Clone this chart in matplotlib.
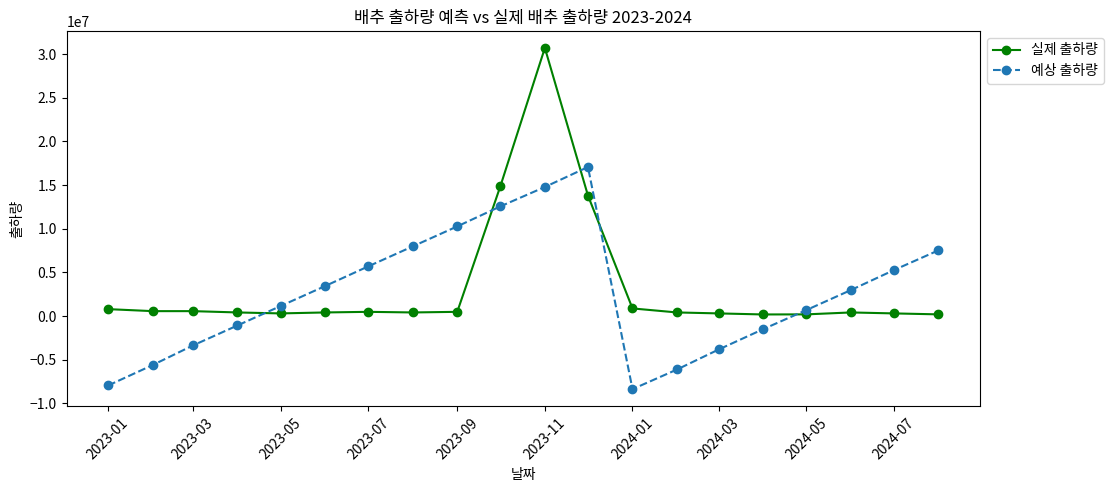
import matplotlib
matplotlib.use("Agg")
import matplotlib.pyplot as plt
import matplotlib.dates as mdates
import pandas as pd

plt.rcParams['font.family'] = ['Noto Sans CJK KR', 'DejaVu Sans']

months = pd.date_range("2023-01-01", "2024-08-01", freq="MS")
actual = [0.80e6, 0.57e6, 0.57e6, 0.42e6, 0.31e6, 0.42e6, 0.49e6, 0.42e6, 0.49e6,
          14.86e6, 30.7e6, 13.8e6,
          0.88e6, 0.42e6, 0.31e6, 0.19e6, 0.20e6, 0.42e6, 0.31e6, 0.20e6]
predicted = [-7.94e6, -5.60e6, -3.36e6, -1.07e6, 1.15e6, 3.44e6, 5.69e6, 7.98e6,
             10.27e6, 12.56e6, 14.78e6, 17.07e6,
             -8.36e6, -6.11e6, -3.82e6, -1.49e6, 0.69e6, 2.98e6, 5.27e6, 7.53e6]

fig, ax = plt.subplots(figsize=(11.2, 4.9), dpi=100)
ax.plot(months, actual, marker='o', linestyle='-', color='green', label='실제 출하량')
ax.plot(months, predicted, marker='o', linestyle='--', color='#1f77b4', label='예상 출하량')

ax.set_title('배추 출하량 예측 vs 실제 배추 출하량 2023-2024')
ax.set_xlabel('날짜')
ax.set_ylabel('출하량')
ax.xaxis.set_major_locator(mdates.MonthLocator(bymonth=[1, 3, 5, 7, 9, 11]))
ax.xaxis.set_major_formatter(mdates.DateFormatter('%Y-%m'))
plt.setp(ax.get_xticklabels(), rotation=45)
ax.legend(loc='upper left', bbox_to_anchor=(1, 1))

fig.subplots_adjust(left=0.0595, right=0.875, top=0.937, bottom=0.171)
fig.savefig('out.png', dpi=100)
